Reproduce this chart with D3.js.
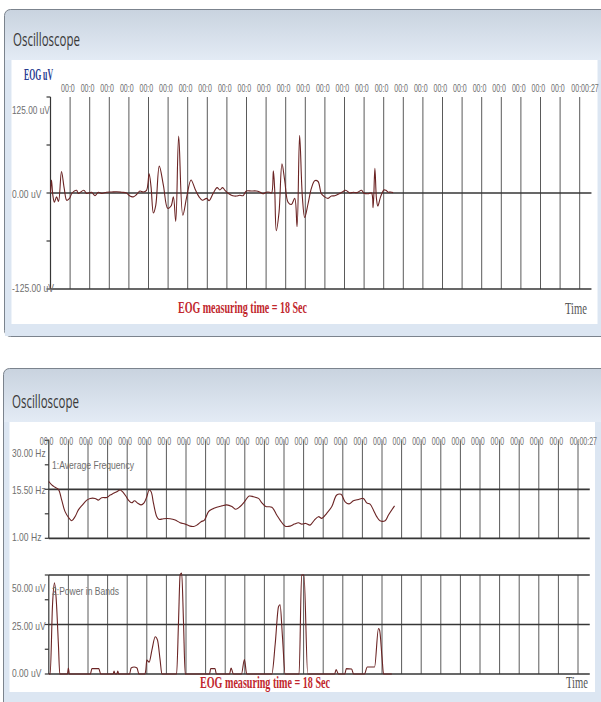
<!DOCTYPE html>
<html>
<head>
<meta charset="utf-8">
<style>
    body {
        margin: 0;
        background: #fff;
    }

    svg {
        display: block;
    }

    .title {
        font-family: "Open Sans", sans-serif;
        font-size: 19px;
        fill: #3a3a3a;
    }

    .gray-label {
        font-family: "Liberation Sans", Arial, sans-serif;
        font-size: 11px;
        fill: #6e6e6e;
    }

    .note {
        font-family: "Liberation Serif", "Times New Roman", serif;
        font-size: 17px;
        font-weight: bold;
        fill: #c1272d;
    }

    .time-label {
        font-family: "Liberation Serif", "Times New Roman", serif;
        font-size: 17px;
        fill: #555;
    }

    .unit-label {
        font-family: "Liberation Serif", "Times New Roman", serif;
        font-size: 16px;
        font-weight: bold;
        fill: #283a8f;
    }
</style>
</head>

<body>
<svg width="601" height="702"></svg>

<script src="https://d3js.org/d3.v7.min.js"></script>
<script>

    // ---- data ----

    // seconds along the top of each scope and the (clipped) labels shown there
    const topTimeTicks = d3.range(1, 28)
    const topTimeLabels = d3.range(1, 27).map(() => "00:0").concat(["00:00:27"])
    const bottomTimeTicks = d3.range(0, 28)
    const bottomTimeLabels = d3.range(0, 27).map(() => "00:0").concat(["00:00:27"])

    const eogTicks = [125, 62.5, 0, -62.5, -125]
    const eogTickLabels = ["125.00 uV", "", "0.00 uV", "", "-125.00 uV"]
    const eogRefLines = [0, -125]

    const freqTicks = [30, 22.75, 15.5, 8.25, 1]
    const freqTickLabels = ["30.00 Hz", "", "15.50 Hz", "", "1.00 Hz"]
    const freqRefLines = [15.5, 1]

    const powerTicks = [50, 37.5, 25, 12.5, 0]
    const powerTickLabels = ["50.00 uV", "", "25.00 uV", "", "0.00 uV"]
    const powerRefLines = [50, 25, 0]

    // [seconds, uV]
    const eogTrace = [
        [0, 0], [0.05, 17], [0.12, -3], [0.2, -12], [0.31, -5], [0.41, -11], [0.56, 28], [0.7, 6],
        [0.83, -9.5], [0.97, -7], [1.1, 0], [1.33, 3.5], [1.42, -0.5], [1.7, 3.5], [1.84, -0.5],
        [2.1, 1], [2.27, -3.5], [2.44, 1], [2.61, -0.5], [2.86, 1], [3.12, 1.3], [3.37, 1.7],
        [3.63, 1], [3.88, 0], [4.05, -4], [4.22, -5], [4.39, -2], [4.56, 2.6], [4.73, 1.3],
        [4.9, 3.5], [5.03, 25], [5.13, 8], [5.25, -26], [5.37, -16], [5.55, 35], [5.76, 10],
        [5.98, -20], [6.15, -17], [6.27, -5], [6.39, -37], [6.54, 74], [6.75, -29], [6.95, -5],
        [7.17, 17], [7.38, 5], [7.58, -5], [7.75, -9.5], [7.97, -7], [8.09, -10], [8.31, 0],
        [8.5, 7], [8.64, 4], [8.78, 7], [8.9, 3.5], [9.1, -1], [9.3, -3.5], [9.48, -4],
        [9.65, -3], [9.82, -3.5], [9.99, 2.6], [10.24, 2.6], [10.5, 2.6], [10.67, 1.3],
        [10.84, -1], [11.01, 1], [11.18, 1], [11.28, 0], [11.37, 29], [11.44, 3.5], [11.52, -49],
        [11.66, -25], [11.81, 38], [11.95, 16], [12.12, -12], [12.29, -15], [12.46, -7],
        [12.58, -44], [12.71, 75], [12.85, -5], [12.97, -32], [13.14, -14], [13.31, 6],
        [13.48, 16], [13.65, 15], [13.82, -1], [13.99, -5], [14.16, -7], [14.33, -4],
        [14.5, -3.5], [14.72, -1], [14.89, 1.3], [15.06, 3.5], [15.27, 0], [15.44, 1],
        [15.64, 0.5], [15.87, 3.5], [15.98, 0], [16.2, -1], [16.38, 0], [16.46, -19],
        [16.55, 32], [16.63, -7], [16.7, -17], [16.84, -5], [17.01, 4], [17.11, 3.5],
        [17.23, 1], [17.35, 1.3], [17.48, 0.5]
    ]

    // [seconds, Hz]
    const freqTrace = [
        [0, 17.8], [0.15, 16.8], [0.32, 16.1], [0.49, 15.5], [0.66, 12.3], [0.83, 8.9], [1.04, 6.9],
        [1.17, 6.2], [1.34, 7.4], [1.51, 9.4], [1.72, 10.9], [1.94, 12.3], [2.11, 12.8], [2.36, 12.8],
        [2.53, 12.3], [2.7, 13], [2.96, 13.1], [3.13, 13.8], [3.3, 14.3], [3.47, 14.8], [3.64, 15.3],
        [3.76, 14.8], [3.93, 13.5], [4.06, 12.3], [4.23, 11.5], [4.37, 12.1], [4.54, 11.4],
        [4.71, 10.9], [4.85, 11.4], [5.0, 13.3], [5.12, 15.3], [5.22, 14.8], [5.34, 11.4],
        [5.51, 7.4], [5.63, 6.6], [5.85, 6.8], [6.19, 6.8], [6.45, 6.4], [6.7, 5.6], [6.96, 5.2],
        [7.21, 4.6], [7.38, 4.5], [7.55, 4.9], [7.77, 5.9], [7.94, 6.4], [8.15, 8.9], [8.32, 9.6],
        [8.57, 10.2], [8.83, 10.6], [9.08, 10.9], [9.34, 10.4], [9.54, 9.6], [9.76, 10.4],
        [9.98, 11.8], [10.22, 13.5], [10.44, 13.3], [10.7, 12.8], [10.87, 11.5], [11.07, 10.4],
        [11.38, 10.2], [11.63, 7.9], [11.8, 6.4], [12.06, 4.6], [12.31, 4.6], [12.53, 5.2],
        [12.74, 5.6], [12.91, 5.2], [13.11, 5.4], [13.33, 4.9], [13.55, 6.4], [13.76, 7.4],
        [13.93, 6.9], [14.18, 8.4], [14.44, 10.4], [14.69, 13.8], [14.91, 14], [15.12, 11.8],
        [15.32, 11.2], [15.54, 12.1], [15.8, 12.5], [16.05, 12.8], [16.22, 11.5], [16.39, 11.1],
        [16.56, 9.4], [16.73, 7.4], [16.9, 6.2], [17.16, 6.2], [17.33, 7.9], [17.64, 10.6]
    ]

    // [seconds, uV]
    const powerTrace = [
        [0, 0], [0.07, 0], [0.19, 35], [0.29, 46], [0.37, 39], [0.49, 15], [0.56, 0],
        [0.95, 0], [1.0, 3], [1.05, 0],
        [2.12, 0], [2.2, 2.7], [2.55, 2.7], [2.65, 0],
        [3.28, 0], [3.33, 1.5], [3.38, 0], [3.47, 0], [3.52, 1.5], [3.57, 0],
        [4.12, 0], [4.2, 3], [4.35, 3.5], [4.5, 3], [4.6, 0],
        [4.9, 0], [4.95, 2], [5.0, 7], [5.12, 6], [5.26, 12], [5.43, 18.8], [5.55, 17], [5.68, 7], [5.77, 0],
        [6.52, 0], [6.62, 27], [6.7, 50], [6.78, 51], [6.87, 27], [6.96, 0],
        [8.2, 0], [8.26, 2.7], [8.48, 2.7], [8.55, 0],
        [9.22, 0], [9.3, 3], [9.42, 0],
        [9.83, 0], [9.98, 7.3], [10.1, 0],
        [11.38, 0], [11.55, 15], [11.72, 34], [11.8, 35], [11.92, 19], [12.06, 0],
        [12.77, 0], [12.9, 50], [13.02, 50], [13.21, 0],
        [14.58, 0], [14.66, 2.2], [14.78, 0],
        [15.1, 0], [15.18, 2.7], [15.45, 2.5], [15.55, 0],
        [16.1, 0], [16.25, 3.5], [16.45, 3.5], [16.62, 3.5], [16.82, 23], [16.88, 22], [17.0, 8.5], [17.08, 0],
        [17.5, 0]
    ]

    // ---- drawing ----

    let svg = d3.select("svg")
    let defs = svg.append("defs")

    const secondsShown = 27.6
    const pxPerSecond = 19.6

    const gridColor = "#5a5a5a"
    const refColor = "#363636"
    const traceColor = "#6b2424"

    function drawFrame(f) {
        let gradId = "grad" + Math.round(f.top)
        let grad = defs.append("linearGradient")
            .attr("id", gradId)
            .attr("gradientUnits", "userSpaceOnUse")
            .attr("x1", 0).attr("x2", 0)
            .attr("y1", f.top).attr("y2", f.whiteTop)
        grad.append("stop").attr("offset", 0).attr("stop-color", "#c9d3df")
        grad.append("stop").attr("offset", 1).attr("stop-color", "#e3ebf5")

        svg.append("rect")
            .attr("x", f.left)
            .attr("y", f.top)
            .attr("width", 620 - f.left)
            .attr("height", f.bottom - f.top)
            .attr("rx", 6)
            .style("fill", `url(#${gradId})`)
            .style("stroke", "#7b838d")
            .style("stroke-width", 1)

        // side and bottom strips
        svg.append("rect")
            .attr("x", f.left + 0.5)
            .attr("y", f.whiteTop)
            .attr("width", 620 - f.left)
            .attr("height", f.bottom - f.whiteTop - 0.5)
            .style("fill", "#dce6f2")

        svg.append("rect")
            .attr("x", f.whiteLeft)
            .attr("y", f.whiteTop)
            .attr("width", f.whiteRight - f.whiteLeft)
            .attr("height", f.whiteBottom - f.whiteTop)
            .style("fill", "#fff")

        svg.append("text")
            .attr("class", "title")
            .attr("x", f.left + 8.5)
            .attr("y", f.titleY)
            .attr("textLength", 67)
            .attr("lengthAdjust", "spacingAndGlyphs")
            .text("Oscilloscope")
    }

    function drawTimeLabels(x, ticks, labels, baseline) {
        // narrow squeezed labels; the last (full) one is anchored by its end so it stays on the page
        svg.append("g")
            .selectAll("text")
            .data(ticks)
            .join("text")
            .attr("class", "gray-label")
            .attr("transform", (d, i) => {
                let tx = labels[i].length > 4 ? x(d) + 19 : x(d) - 9
                return `translate(${tx},${baseline}) scale(0.64,1)`
            })
            .attr("text-anchor", (d, i) => labels[i].length > 4 ? "end" : "start")
            .text((d, i) => labels[i])
    }

    function drawPlot(x, y, ticks, tickLabels, refLines, trace, curve) {
        let g = svg.append("g")
        let [yBottom, yTop] = y.range()
        let [x0, x1] = x.range()

        // vertical second lines
        g.append("g")
            .selectAll("line")
            .data(d3.range(1, 28))
            .join("line")
            .attr("x1", d => x(d))
            .attr("x2", d => x(d))
            .attr("y1", yTop)
            .attr("y2", yBottom)
            .style("stroke", gridColor)
            .style("stroke-width", 1)

        // left axis
        g.append("line")
            .attr("x1", x(0)).attr("x2", x(0))
            .attr("y1", yTop).attr("y2", yBottom)
            .style("stroke", refColor)
            .style("stroke-width", 1.2)

        g.append("g")
            .selectAll("line")
            .data(ticks)
            .join("line")
            .attr("x1", x(0) - 4)
            .attr("x2", x(0))
            .attr("y1", d => y(d))
            .attr("y2", d => y(d))
            .style("stroke", refColor)
            .style("stroke-width", 1.2)

        // horizontal reference lines
        g.append("g")
            .selectAll("line")
            .data(refLines)
            .join("line")
            .attr("x1", x(0))
            .attr("x2", x1)
            .attr("y1", d => y(d))
            .attr("y2", d => y(d))
            .style("stroke", refColor)
            .style("stroke-width", 1.7)

        // value labels, kept inside the plot height
        g.append("g")
            .selectAll("text")
            .data(ticks)
            .join("text")
            .attr("class", "gray-label")
            .attr("x", 12)
            .attr("y", d => Math.min(Math.max(y(d) + 5, yTop + 16.5), yBottom + 3))
            .attr("textLength", (d, i) => tickLabels[i].length * 4.2 || 1)
            .attr("lengthAdjust", "spacingAndGlyphs")
            .text((d, i) => tickLabels[i])

        let line = d3.line()
            .x(d => x(d[0]))
            .y(d => y(d[1]))
            .curve(curve)

        g.append("path")
            .datum(trace)
            .attr("d", line)
            .style("fill", "none")
            .style("stroke", traceColor)
            .style("stroke-width", 1.1)
            .style("stroke-linejoin", "round")

        return g
    }

    // top scope: EOG
    drawFrame({ left: 4.5, top: 9.5, bottom: 336.5, whiteLeft: 11.5, whiteTop: 60, whiteRight: 597.5, whiteBottom: 324, titleY: 46 })

    let xTop = d3.scaleLinear()
        .domain([0, secondsShown])
        .range([50.5, 50.5 + secondsShown * pxPerSecond])

    let yEog = d3.scaleLinear()
        .domain([-125, 125])
        .range([289, 97])

    svg.append("text")
        .attr("class", "unit-label")
        .attr("x", 24)
        .attr("y", 79.5)
        .attr("textLength", 29)
        .attr("lengthAdjust", "spacingAndGlyphs")
        .text("EOG uV")

    drawTimeLabels(xTop, topTimeTicks, topTimeLabels, 92)
    drawPlot(xTop, yEog, eogTicks, eogTickLabels, eogRefLines, eogTrace, d3.curveCatmullRom.alpha(0.5))

    svg.append("text")
        .attr("class", "note")
        .attr("x", 178)
        .attr("y", 313)
        .attr("textLength", 129)
        .attr("lengthAdjust", "spacingAndGlyphs")
        .text("EOG measuring time = 18 Sec")

    svg.append("text")
        .attr("class", "time-label")
        .attr("x", 565)
        .attr("y", 314)
        .attr("textLength", 22)
        .attr("lengthAdjust", "spacingAndGlyphs")
        .text("Time")

    // bottom scope: average frequency + power in bands
    drawFrame({ left: 3.5, top: 368.5, bottom: 730, whiteLeft: 9.5, whiteTop: 422, whiteRight: 595, whiteBottom: 692, titleY: 408 })

    let xBottom = d3.scaleLinear()
        .domain([0, secondsShown])
        .range([48.8, 48.8 + secondsShown * pxPerSecond])

    let yFreq = d3.scaleLinear()
        .domain([1, 30])
        .range([538.3, 440.3])

    let yPower = d3.scaleLinear()
        .domain([0, 50])
        .range([674, 575])

    drawPlot(xBottom, yFreq, freqTicks, freqTickLabels, freqRefLines, freqTrace, d3.curveCatmullRom.alpha(0.5))
    drawPlot(xBottom, yPower, powerTicks, powerTickLabels, powerRefLines, powerTrace, d3.curveMonotoneX)
    drawTimeLabels(xBottom, bottomTimeTicks, bottomTimeLabels, 445)

    svg.append("text")
        .attr("class", "gray-label")
        .attr("x", 52)
        .attr("y", yFreq(22.75) + 4)
        .attr("textLength", 82)
        .attr("lengthAdjust", "spacingAndGlyphs")
        .text("1:Average Frequency")

    svg.append("text")
        .attr("class", "gray-label")
        .attr("x", 52)
        .attr("y", yPower(40))
        .attr("textLength", 67)
        .attr("lengthAdjust", "spacingAndGlyphs")
        .text("2:Power in Bands")

    svg.append("text")
        .attr("class", "note")
        .attr("x", 200)
        .attr("y", 688)
        .attr("textLength", 130)
        .attr("lengthAdjust", "spacingAndGlyphs")
        .text("EOG measuring time = 18 Sec")

    svg.append("text")
        .attr("class", "time-label")
        .attr("x", 566)
        .attr("y", 688)
        .attr("textLength", 22)
        .attr("lengthAdjust", "spacingAndGlyphs")
        .text("Time")

</script>
</body>
</html>
